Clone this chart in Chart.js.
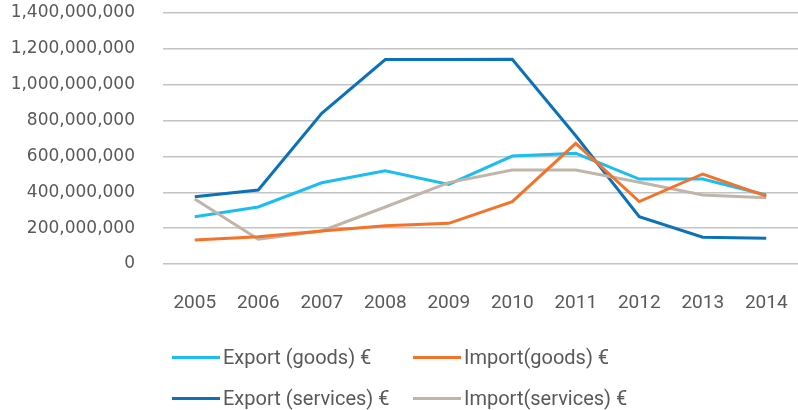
<!DOCTYPE html>
<html>
<head>
<meta charset="utf-8">
<script src="https://cdn.jsdelivr.net/npm/chart.js@4.4.1/dist/chart.umd.min.js"></script>
<style>
  html, body { margin: 0; padding: 0; background: #fff; }
  #wrap { position: relative; width: 798px; height: 410px; }
  #legend { position: absolute; left: 0; top: 0; width: 798px; height: 410px; pointer-events: none;
            font-family: Roboto, sans-serif; font-size: 20px; color: #595959; }
  .item { position: absolute; display: flex; align-items: center; white-space: nowrap; }
  .item span.line { display: inline-block; width: 48px; height: 3px; margin-right: 3px; }
</style>
</head>
<body>
<div id="wrap">
  <canvas id="chart" width="798" height="410"></canvas>
  <div id="legend"></div>
</div>
<script>
// datos
const years = ['2005', '2006', '2007', '2008', '2009', '2010', '2011', '2012', '2013', '2014'];
const exportGoods = [264e6, 318e6, 453e6, 520e6, 444e6, 602e6, 617e6, 474e6, 474e6, 385e6];
const importGoods = [134e6, 152e6, 184e6, 214e6, 227e6, 348e6, 673e6, 348e6, 502e6, 379e6];
const exportServices = [375e6, 413e6, 840e6, 1140e6, 1141e6, 1142e6, 715e6, 264e6, 149e6, 143e6];
const importServices = [363e6, 138e6, 184e6, 318e6, 454e6, 524e6, 524e6, 456e6, 385e6, 370e6];
const yTicks = [0, 200e6, 400e6, 600e6, 800e6, 1000e6, 1200e6, 1400e6];

const series = [
    { label: 'Export (goods) €', data: exportGoods, color: '#1cbdf0' },
    { label: 'Import(goods) €', data: importGoods, color: '#f47329' },
    { label: 'Export (services) €', data: exportServices, color: '#0b72ba' },
    { label: 'Import(services) €', data: importServices, color: '#c1b5aa' }
];

// orden de dibujo: como en el original
const drawOrder = [1, 3, 0, 2];

const ctx = document.getElementById('chart');
new Chart(ctx, {
    type: 'line',
    data: {
        labels: years,
        datasets: drawOrder.map(i => ({
            label: series[i].label,
            data: series[i].data,
            borderColor: series[i].color,
            backgroundColor: series[i].color,
            borderWidth: 3,
            pointRadius: 0,
            tension: 0,
            fill: false
        }))
    },
    options: {
        responsive: false,
        animation: false,
        layout: { padding: { top: 13, right: 0, bottom: 98, left: 0 } },
        plugins: { legend: { display: false }, tooltip: { enabled: false } },
        scales: {
            x: {
                offset: true,
                grid: { display: false },
                border: { display: false },
                ticks: { color: '#595959', font: { family: 'Roboto', size: 19 }, padding: 20, maxRotation: 0 },
                afterFit: s => { s.height = 48; s.paddingLeft = 0; s.paddingRight = 0; }
            },
            y: {
                min: 0,
                max: 1400e6,
                afterBuildTicks: s => { s.ticks = yTicks.map(v => ({ value: v })); },
                grid: { color: '#c4c4c4', lineWidth: 1.5, drawTicks: false },
                border: { display: false },
                ticks: {
                    color: '#595959',
                    font: { family: 'DejaVu Sans', size: 17 },
                    padding: 28,
                    callback: v => v.toLocaleString('en-US')
                },
                afterFit: s => { s.width = 163; s.paddingTop = 0; s.paddingBottom = 0; }
            }
        }
    }
});

// leyenda en html, dos filas
const legend = document.getElementById('legend');
const pos = [[172, 357], [413, 357], [172, 398], [413, 398]];
series.forEach((s, i) => {
    const div = document.createElement('div');
    div.className = 'item';
    div.style.left = pos[i][0] + 'px';
    div.style.top = (pos[i][1] - 12) + 'px';
    div.style.height = '24px';
    div.innerHTML = '<span class="line" style="background:' + s.color + '"></span>' + s.label;
    legend.appendChild(div);
});
</script>
</body>
</html>
